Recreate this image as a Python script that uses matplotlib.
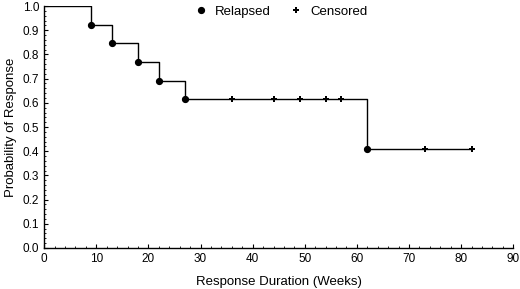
import matplotlib
matplotlib.use("Agg")
import matplotlib.pyplot as plt
from matplotlib.ticker import MultipleLocator

plt.rcParams['font.family'] = 'Liberation Sans'

# step curve (Kaplan-Meier)
step_weeks = [0, 9, 13, 18, 22, 27, 62, 82]
step_prob = [1.0, 0.923, 0.846, 0.769, 0.692, 0.615, 0.410, 0.410]

relapsed_weeks = [9, 13, 18, 22, 27, 62]
relapsed_prob = [0.923, 0.846, 0.769, 0.692, 0.615, 0.410]

censored_weeks = [36, 44, 49, 54, 57, 73, 82]
censored_prob = [0.615, 0.615, 0.615, 0.615, 0.615, 0.410, 0.410]

fig = plt.figure(figsize=(5.2, 2.89), dpi=100)
ax = fig.add_axes([0.085, 0.142, 0.902, 0.837])

ax.step(step_weeks, step_prob, where='post', color='black', lw=1.0)
ax.plot(relapsed_weeks, relapsed_prob, 'o', color='black', ms=4.2, label='Relapsed')
ax.plot(censored_weeks, censored_prob, 'P', color='black', ms=5, mew=0, label='Censored')

ax.set_xlim(0, 90)
ax.set_ylim(0, 1.0)
ax.xaxis.set_major_locator(MultipleLocator(10))
ax.xaxis.set_minor_locator(MultipleLocator(2))
ax.yaxis.set_major_locator(MultipleLocator(0.1))
ax.yaxis.set_minor_locator(MultipleLocator(0.02))
ax.yaxis.set_major_formatter(matplotlib.ticker.FormatStrFormatter('%.1f'))
ax.tick_params(which='both', direction='in', labelsize=8.5, colors='black')
ax.tick_params(which='major', length=3, width=0.8)
ax.tick_params(which='minor', length=1.5, width=0.6)
for s in ['top', 'right']:
    ax.spines[s].set_visible(False)
ax.spines['left'].set_linewidth(1.0)
ax.spines['bottom'].set_linewidth(1.0)

ax.set_xlabel('Response Duration (Weeks)', fontsize=9.5, labelpad=8)
ax.set_ylabel('Probability of Response', fontsize=9.5, labelpad=4)

ax.legend(loc='upper center', bbox_to_anchor=(0.505, 1.05), ncol=2, frameon=False,
          fontsize=9.5, handlelength=1, handletextpad=0.6, columnspacing=1.4)

fig.savefig('out.png', dpi=100)
